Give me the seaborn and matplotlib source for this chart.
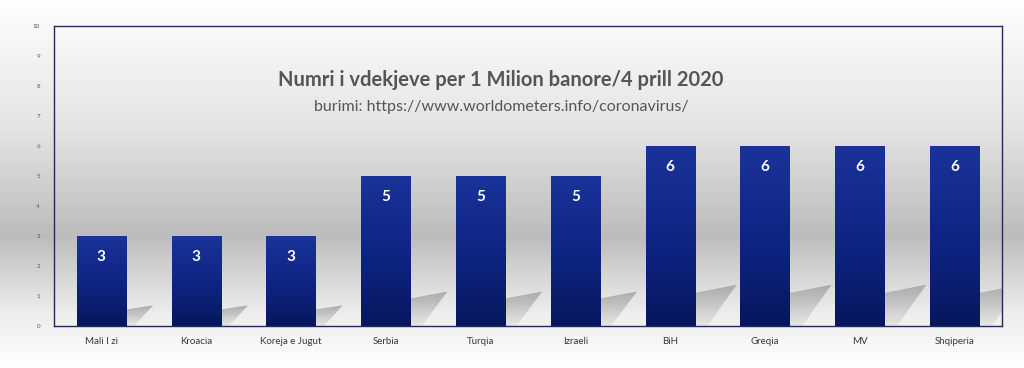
import numpy as np
import pandas as pd
import matplotlib
matplotlib.use("Agg")
import matplotlib.pyplot as plt
from matplotlib.colors import LinearSegmentedColormap
from matplotlib.patches import Polygon
import seaborn as sns

# ---- data ----
countries = ["Mali I zi", "Kroacia", "Koreja e Jugut", "Serbia", "Turqia",
             "Izraeli", "BiH", "Greqia", "MV", "Shqiperia"]
deaths_per_million = [3, 3, 3, 5, 5, 5, 6, 6, 6, 6]
y_ticks = list(range(0, 11))

title = "Numri i vdekjeve per 1 Milion banore/4 prill 2020"
subtitle = "burimi: https://www.worldometers.info/coronavirus/"

df = pd.DataFrame({"country": countries, "value": deaths_per_million})

sns.set_theme(style="white")
plt.rcParams["font.family"] = ["Lato", "DejaVu Sans"]

fig = plt.figure(figsize=(10.24, 3.68), dpi=100)

# figure background gradient (white -> grey -> white)
bg_cmap = LinearSegmentedColormap.from_list(
    "bg", [(0.0, "#ffffff"), (0.35, "#e4e4e4"), (0.64, "#bcbcbc"), (0.85, "#ededed"), (1.0, "#ffffff")])
bg_ax = fig.add_axes([0, 0, 1, 1], zorder=-10)
bg_ax.imshow(np.linspace(0, 1, 256).reshape(-1, 1), cmap=bg_cmap, aspect="auto",
             extent=[0, 1, 0, 1], origin="upper")
bg_ax.axis("off")

ax = fig.add_axes([0.0527, 0.114, 0.9258, 0.815])
ax.patch.set_alpha(0)

sns.barplot(data=df, x="country", y="value", color="#0d2280", width=0.52,
            saturation=1, linewidth=0, edgecolor="none", ax=ax, zorder=3)

ax.set_ylim(0, 10)
ax.set_xlim(-0.5, len(countries) - 0.5)

bar_cmap = LinearSegmentedColormap.from_list("bar", ["#07175e", "#0e2585", "#1a3399"])
shadow_cmap = LinearSegmentedColormap.from_list("sh", ["#e6e6e6", "#a4a4a4"])
grad = np.linspace(0, 1, 128).reshape(-1, 1)
for bar in ax.patches:
    x0, w, h = bar.get_x(), bar.get_width(), bar.get_height()
    im = ax.imshow(grad, cmap=bar_cmap, aspect="auto", origin="lower",
                   extent=[x0, x0 + w, 0, h], zorder=4)
    im.set_clip_path(bar)
    # soft shadow to the right of the base, grows with bar height
    r = x0 + w
    sh = h * 0.23
    d = w * (0.25 + 0.1 * h)
    poly = Polygon([(r, 0), (r, sh * 0.8), (r + d, sh), (r + d * 0.3, 0)],
                   closed=True, facecolor="none", edgecolor="none", zorder=2)
    ax.add_patch(poly)
    im2 = ax.imshow(grad, cmap=shadow_cmap, aspect="auto", origin="lower",
                    extent=[r, r + d, 0, sh], zorder=2, alpha=0.9)
    im2.set_clip_path(poly)

ax.bar_label(ax.containers[0], labels=[str(v) for v in deaths_per_million],
             label_type="edge", padding=-20, color="white", fontsize=11,
             fontweight="bold", zorder=6)

ax.set_xlim(-0.5, len(countries) - 0.5)
ax.set_ylim(0, 10)
ax.set_yticks(y_ticks)
ax.set_yticklabels([str(t) for t in y_ticks], fontsize=4.5, color="#555555")
ax.tick_params(axis="x", labelsize=7, colors="#383838", pad=8, length=0)
ax.tick_params(axis="y", pad=10, length=0)
ax.set_xlabel("")
ax.set_ylabel("")
for sp in ax.spines.values():
    sp.set_color("#1f2d5a")
    sp.set_linewidth(1.0)

ax.text(0.4715, 0.82, title, transform=ax.transAxes, ha="center", va="center",
        fontsize=14.5, fontweight="bold", color="#555555")
ax.text(0.4715, 0.73, subtitle, transform=ax.transAxes, ha="center", va="center",
        fontsize=11.5, color="#555555")

fig.savefig("out.png", dpi=100)
